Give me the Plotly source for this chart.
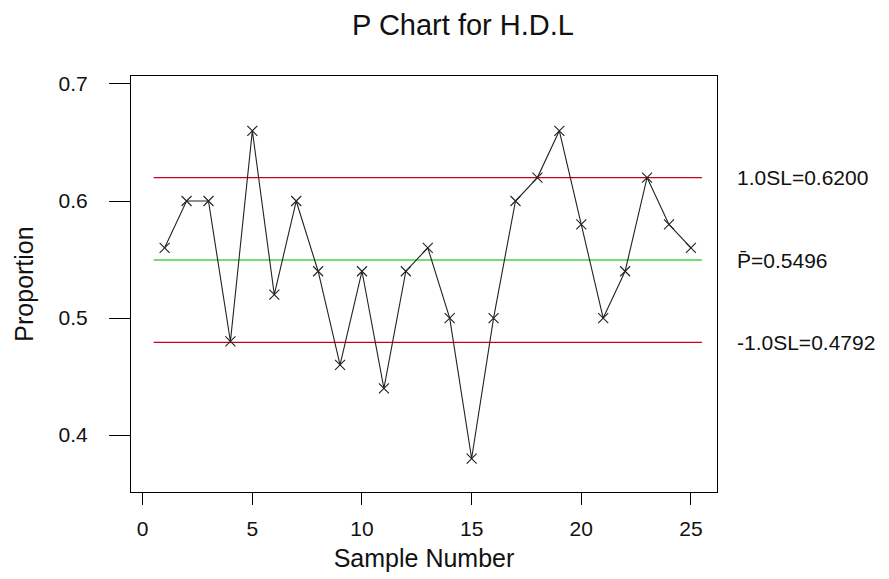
import plotly.graph_objects as go

samples = list(range(1, 26))
proportion = [0.56, 0.60, 0.60, 0.48, 0.66, 0.52, 0.60, 0.54, 0.46, 0.54,
              0.44, 0.54, 0.56, 0.50, 0.38, 0.50, 0.60, 0.62, 0.66, 0.58,
              0.50, 0.54, 0.62, 0.58, 0.56]
ucl = 0.6200
center = 0.5496
lcl = 0.4792
limit_x = [0.5, 25.5]
x_ticks = [0, 5, 10, 15, 20, 25]
y_ticks = [0.4, 0.5, 0.6, 0.7]
y_tick_text = ["0.4", "0.5", "0.6", "0.7"]

FONT = "Liberation Sans, Arial, sans-serif"

fig = go.Figure()
fig.add_trace(go.Scatter(x=limit_x, y=[ucl, ucl], mode="lines",
                         line=dict(color="#c8001e", width=1.2), hoverinfo="skip"))
fig.add_trace(go.Scatter(x=limit_x, y=[center, center], mode="lines",
                         line=dict(color="#44d044", width=1.4), hoverinfo="skip"))
fig.add_trace(go.Scatter(x=limit_x, y=[lcl, lcl], mode="lines",
                         line=dict(color="#c8001e", width=1.2), hoverinfo="skip"))
fig.add_trace(go.Scatter(x=samples, y=proportion, mode="lines+markers",
                         line=dict(color="#222222", width=1.1),
                         marker=dict(symbol="x-thin", size=10,
                                     line=dict(color="#222222", width=1.1))))

ann_font = dict(family=FONT, size=21, color="#111111")
fig.add_annotation(x=1.03, xref="paper", y=ucl, yref="y", text="1.0SL=0.6200",
                   showarrow=False, xanchor="left", yanchor="middle", font=ann_font)
fig.add_annotation(x=1.03, xref="paper", y=center, yref="y", text="P\u0304=0.5496",
                   showarrow=False, xanchor="left", yanchor="middle", font=ann_font)
fig.add_annotation(x=1.03, xref="paper", y=lcl, yref="y", text="-1.0SL=0.4792",
                   showarrow=False, xanchor="left", yanchor="middle", font=ann_font)

fig.update_layout(
    width=889, height=579,
    margin=dict(l=131, r=172, t=76, b=87, autoexpand=False),
    paper_bgcolor="white", plot_bgcolor="white",
    showlegend=False,
    font=dict(family=FONT, color="#111111"),
    title=dict(text="P Chart for H.D.L", x=463/889, xref="container", xanchor="center",
               y=1 - 25/579, yref="container", yanchor="middle",
               font=dict(family=FONT, size=29, color="#111111")),
)
fig.update_xaxes(range=[-0.534, 26.19], tickvals=x_ticks, ticks="outside", ticklen=12,
                 tickcolor="black", tickwidth=1, ticklabelstandoff=6, automargin=False,
                 showline=True, linecolor="black", linewidth=1.2, mirror=True,
                 showgrid=False, zeroline=False,
                 tickfont=dict(family=FONT, size=21, color="#111111"),
                 title=dict(text="Sample Number", standoff=10,
                            font=dict(family=FONT, size=25, color="#111111")))
fig.update_yaxes(range=[0.3514, 0.7068], tickvals=y_ticks, ticktext=y_tick_text,
                 ticks="outside", ticklen=21, tickcolor="black", tickwidth=1,
                 ticklabelstandoff=17, automargin=False,
                 showline=True, linecolor="black", linewidth=1.2, mirror=True,
                 showgrid=False, zeroline=False,
                 tickfont=dict(family=FONT, size=21, color="#111111"),
                 title=dict(text="Proportion", standoff=17,
                            font=dict(family=FONT, size=25, color="#111111")))

fig.write_html("out.html")
